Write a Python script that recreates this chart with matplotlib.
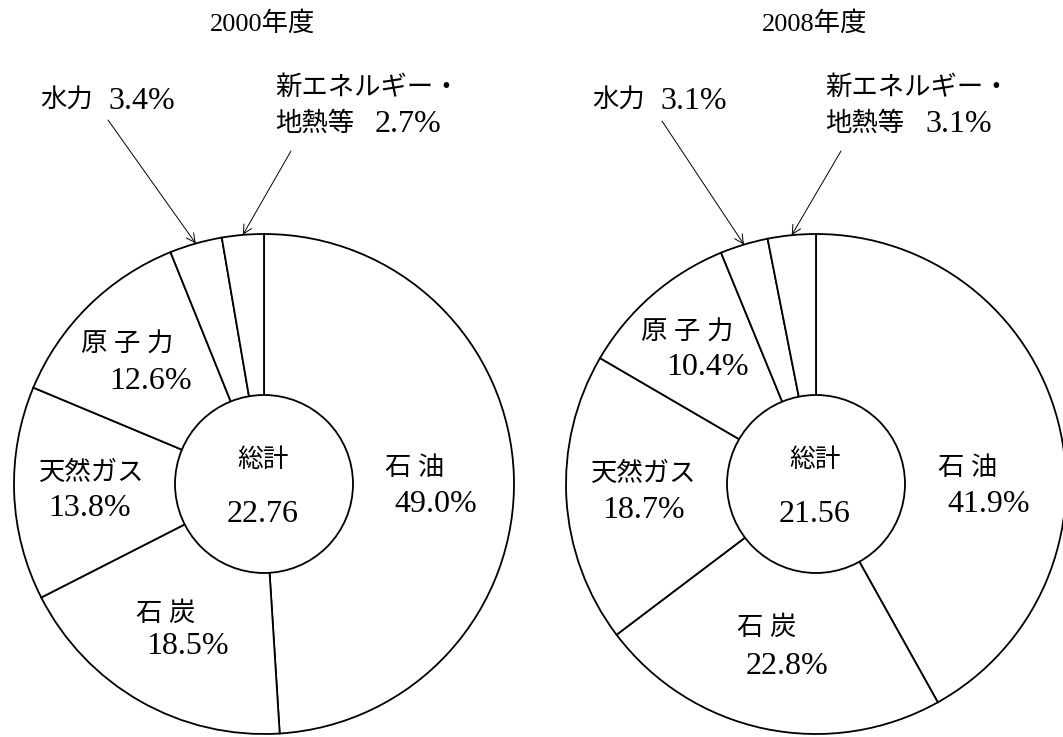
import numpy as np
import matplotlib
matplotlib.use("Agg")
import matplotlib.pyplot as plt
from matplotlib.patches import Circle

plt.rcParams['font.family'] = ['Liberation Serif', 'Noto Sans CJK JP']

W, H = 1063, 737

# data
years = ["2000年度", "2008年度"]
totals = ["22.76", "21.56"]
sources = ["石 油", "石 炭", "天然ガス", "原 子 力", "水力", "新エネルギー・\n地熱等"]
share_2000 = [49.0, 18.5, 13.8, 12.6, 3.4, 2.7]
share_2008 = [41.9, 22.8, 18.7, 10.4, 3.1, 3.1]
shares = [share_2000, share_2008]

# layout (pixel coords, y measured from top)
centers = [(264, 484), (816, 484)]
R, R_IN = 250, 89
title_y = 23
big_label_pos = [  # (name centre, pct centre) for the four large wedges
    [((415, 468), (436, 504)), ((166, 614), (188, 647)),
     ((92, 473), (90, 508)), ((127, 345), (151, 381))],
    [((968, 468), (989, 505)), ((767, 628), (787, 666)),
     ((644, 474), (644, 510)), ((687, 333), (708, 367))],
]
# small wedges: (name left-x, name y, pct left-x, pct y)
hydro_pos = [(40, 101, 108, 101), (592, 101, 660, 101)]
newen_pos = [(275, 87, 275, 124, 375), (825, 87, 825, 124, 925)]
arrow_start = [[(108, 120), (291, 151)], [(662, 121), (841, 151)]]

NAME_FS, PCT_FS = 19, 23

fig = plt.figure(figsize=(W / 100, H / 100), dpi=100)
ax = fig.add_axes([0, 0, 1, 1])


def Y(y):
    return H - y


for i in range(2):
    cx, cy = centers[i]
    wedges, _ = ax.pie(shares[i], radius=R, center=(cx, Y(cy)), startangle=90,
                       counterclock=False,
                       wedgeprops=dict(facecolor="white", edgecolor="black",
                                       linewidth=1.3))
    ax.add_patch(Circle((cx, Y(cy)), R_IN, facecolor="white",
                        edgecolor="black", linewidth=1.3, zorder=3))
    ax.text(cx - 1, Y(460), "総計", ha="center", va="center", fontsize=18.5, zorder=4)
    ax.text(cx - 1, Y(514), totals[i], ha="center", va="center", fontsize=PCT_FS, zorder=4)
    ax.text(cx - 1, Y(title_y), years[i], ha="center", va="center", fontsize=NAME_FS)

    for k in range(4):
        (nx, ny), (px, py) = big_label_pos[i][k]
        ax.text(nx, Y(ny), sources[k], ha="center", va="center",
                fontsize=NAME_FS, zorder=4)
        ax.text(px, Y(py), f"{shares[i][k]:.1f}%", ha="center", va="center",
                fontsize=PCT_FS, zorder=4)

    hx, hy, hpx, hpy = hydro_pos[i]
    ax.text(hx, Y(hy), sources[4], ha="left", va="center", fontsize=NAME_FS)
    ax.text(hpx, Y(hpy), f"{shares[i][4]:.1f}%", ha="left", va="center", fontsize=PCT_FS)

    l1, l2 = sources[5].split("\n")
    n1x, n1y, n2x, n2y, npx = newen_pos[i]
    ax.text(n1x, Y(n1y), l1, ha="left", va="center", fontsize=NAME_FS)
    ax.text(n2x, Y(n2y), l2, ha="left", va="center", fontsize=NAME_FS)
    ax.text(npx, Y(n2y), f"{shares[i][5]:.1f}%", ha="left", va="center", fontsize=PCT_FS)

    # arrows point to the rim at the middle of the two small wedges
    for w, (sx, sy) in zip(wedges[4:], arrow_start[i]):
        mid = np.deg2rad((w.theta1 + w.theta2) / 2)
        tip = (cx + R * np.cos(mid), Y(cy) + R * np.sin(mid))
        ax.annotate("", xy=tip, xytext=(sx, Y(sy)),
                    arrowprops=dict(arrowstyle="->", color="black", lw=0.7,
                                    shrinkA=0, shrinkB=0, mutation_scale=16))

ax.set_xlim(0, W)
ax.set_ylim(0, H)
ax.set_aspect("equal")
ax.axis("off")

fig.savefig("out.png", dpi=100, facecolor="white")
